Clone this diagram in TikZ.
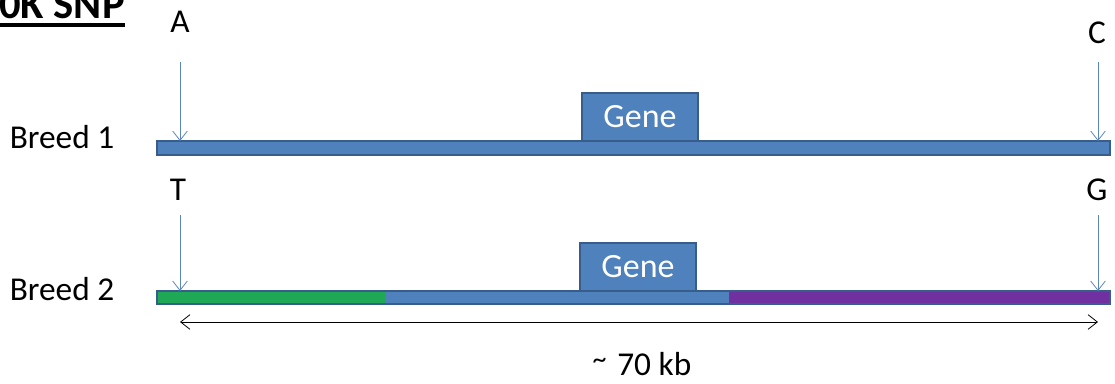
\documentclass[tikz,border=0pt]{standalone}
\usepackage{fontspec}
\setmainfont{Carlito}
\usetikzlibrary{arrows.meta}
\definecolor{barblue}{HTML}{4F81BD}
\definecolor{bardark}{HTML}{385D8A}
\definecolor{snparrow}{HTML}{5B86B8}
\definecolor{seggreen}{HTML}{1FA855}
\definecolor{segpurple}{HTML}{7030A0}
\tikzset{
  lbl/.style={font=\fontsize{25}{30}\selectfont, inner sep=0pt},
  genebox/.style={draw=bardark, line width=1.8pt, fill=barblue, minimum width=87pt, minimum height=36pt,
    inner sep=0pt, text=white, font=\fontsize{25.5}{30}\selectfont},
  chrom/.style={draw=bardark, line width=2.2pt, fill=barblue},
  snp/.style={draw=snparrow, line width=0.6pt, -{Straight Barb[length=7pt,width=11pt,line width=0.6pt]}},
  span/.style={draw=black, line width=0.6pt, {Straight Barb[length=7pt,width=11pt,line width=0.6pt]}-{Straight Barb[length=7pt,width=11pt,line width=0.6pt]}}
}
\begin{document}
\begin{tikzpicture}[x=0.75pt,y=-0.75pt]
\useasboundingbox (0,0) rectangle (1115,383);

% title, underlined
\node[anchor=south east, inner sep=0pt, font=\fontsize{32}{36}\selectfont\bfseries] (title) at (125,19) {0K SNP};
\draw[line width=2.4pt] (title.south west) ++(0,6) coordinate (ul1) -- (125,25) coordinate (ul2);

% breed labels
\node[lbl] (b1) at (62,137) {Breed 1};
\node[lbl] (b2) at (62,289) {Breed 2};

% Breed 1 chromosome and gene
\node[genebox, anchor=south] (g1) at (640,142) {Gene};
\path[chrom] (157,141) rectangle (1110,155);
\coordinate (c1L) at (180,141);
\coordinate (c1R) at (1098,141);

% Breed 2 chromosome with haplotype segments
\node[genebox, anchor=south] (g2) at (638,292) {Gene};
\fill[seggreen] (157,291) rectangle (386,304);
\fill[barblue] (386,291) rectangle (729,304);
\fill[segpurple] (729,291) rectangle (1110,304);
\draw[bardark, line width=2.2pt] (157,291) rectangle (1110,304);
\coordinate (c2L) at (180,291);
\coordinate (c2R) at (1098,291);

% alleles
\node[lbl] (aA) at (180,22) {A};
\node[lbl] (aC) at (1097,33) {C};
\node[lbl] (aT) at (178,190) {T};
\node[lbl] (aG) at (1097,190) {G};

\coordinate (sA) at (180,62);
\coordinate (sC) at (1098,62);
\coordinate (sT) at (180,215);
\coordinate (sG) at (1098,215);
\draw[snp] (sA) -- (c1L);
\draw[snp] (sC) -- (c1R);
\draw[snp] (sT) -- (c2L);
\draw[snp] (sG) -- (c2R);

% span of the region
\coordinate (spL) at (180,322);
\coordinate (spR) at (1098,322);
\draw[span] (spL) -- (spR);
\node[lbl] (kb) at (642,364) {\raisebox{5pt}{\fontsize{21}{24}\selectfont\textasciitilde}\hspace{8pt}70 kb};
\end{tikzpicture}
\end{document}
